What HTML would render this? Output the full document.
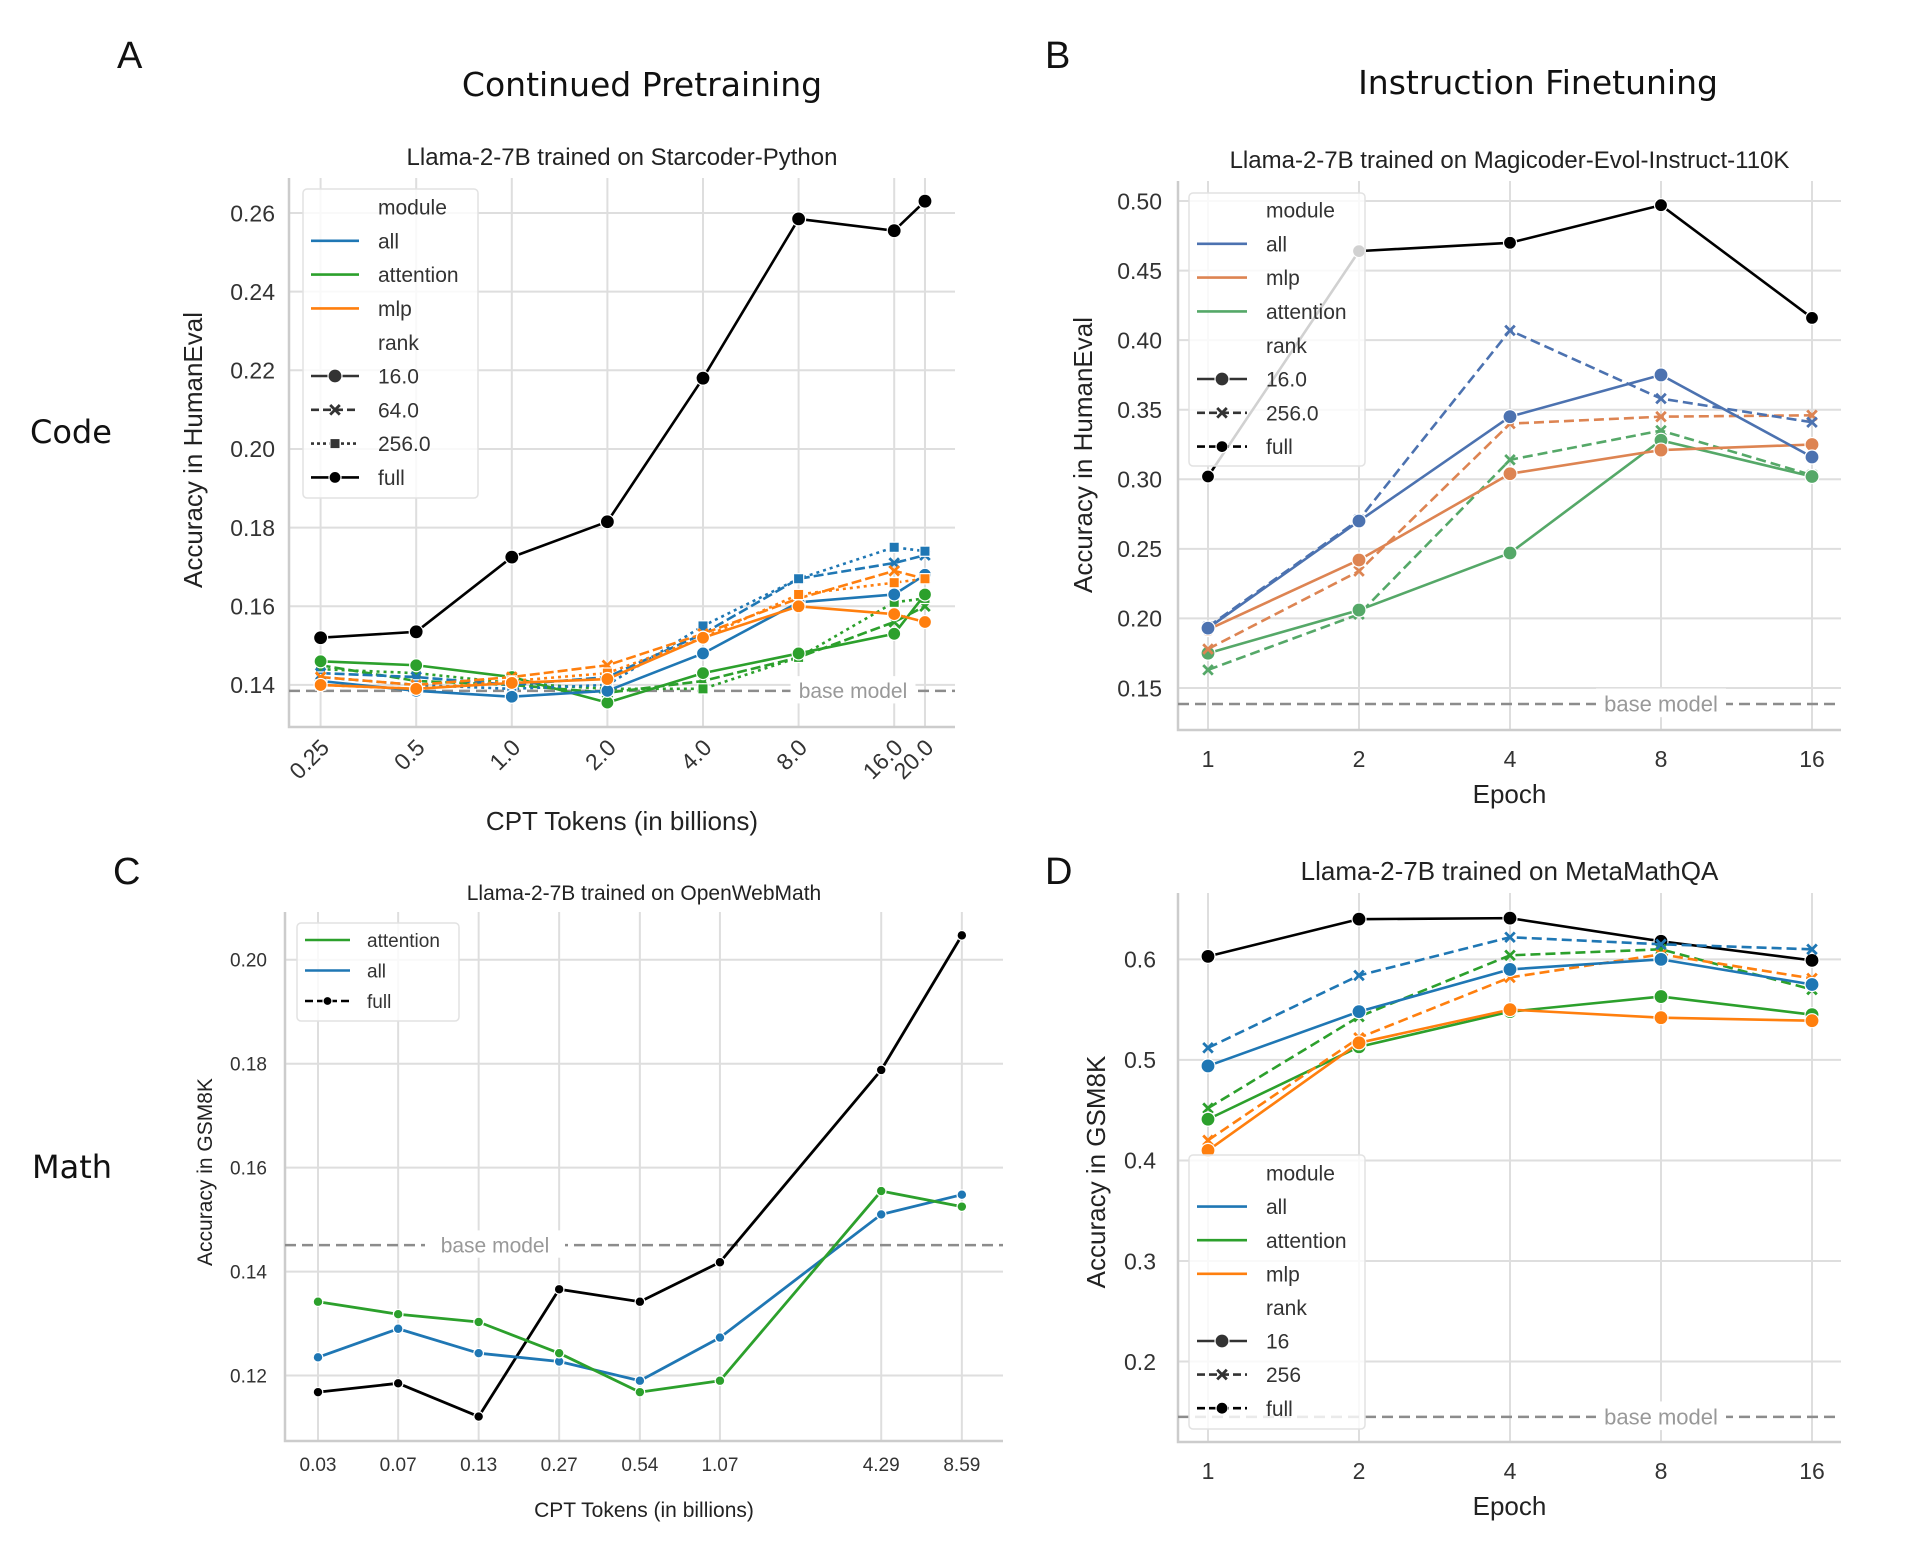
<!DOCTYPE html>
<html><head><meta charset="utf-8"><style>
body{margin:0;background:#fff;}
svg{display:block;font-family:"Liberation Sans",sans-serif;}
</style></head><body>
<svg id="fig" width="1920" height="1563" viewBox="0 0 1920 1563" xmlns="http://www.w3.org/2000/svg">
<rect width="1920" height="1563" fill="#fff"/>
<text x="117" y="68" font-size="38" fill="#111">A</text>
<text x="1045" y="68" font-size="38" fill="#111">B</text>
<text x="113" y="884" font-size="38" fill="#111">C</text>
<text x="1045" y="884" font-size="38" fill="#111">D</text>
<text x="642" y="96" font-size="33" text-anchor="middle" fill="#111" font-family="DejaVu Sans, sans-serif">Continued Pretraining</text>
<text x="1538" y="94" font-size="33" text-anchor="middle" fill="#111" font-family="DejaVu Sans, sans-serif">Instruction Finetuning</text>
<text x="30" y="443" font-size="32" fill="#111" font-family="DejaVu Sans, sans-serif">Code</text>
<text x="32" y="1178" font-size="32" fill="#111" font-family="DejaVu Sans, sans-serif">Math</text>
<g id="root"></g>
</svg>
<script>
// ---------- Panel A data ----------
const A_tokens=[0.25,0.5,1,2,4,8,16,20];
const A_tickLabels=['0.25','0.5','1.0','2.0','4.0','8.0','16.0','20.0'];
const A_yTicks=[0.14,0.16,0.18,0.20,0.22,0.24,0.26];
const A_full=[0.152,0.1535,0.1725,0.1815,0.218,0.2585,0.2555,0.263];
const A_all16=[0.141,0.1385,0.137,0.1385,0.148,0.161,0.163,0.168];
const A_all64=[0.143,0.142,0.140,0.142,0.153,0.167,0.171,0.173];
const A_all256=[0.142,0.140,0.139,0.140,0.155,0.167,0.175,0.174];
const A_att16=[0.146,0.145,0.142,0.1355,0.143,0.148,0.153,0.163];
const A_att64=[0.145,0.141,0.140,0.138,0.141,0.147,0.156,0.160];
const A_att256=[0.144,0.143,0.1405,0.139,0.139,0.147,0.161,0.162];
const A_mlp16=[0.140,0.139,0.1405,0.1415,0.152,0.160,0.158,0.156];
const A_mlp64=[0.142,0.140,0.142,0.145,0.153,0.162,0.169,0.167];
const A_mlp256=[0.140,0.139,0.141,0.143,0.152,0.163,0.166,0.167];
const A_base=0.1385;
// ---------- Panel B data ----------
const B_epochs=[1,2,4,8,16];
const B_tickLabels=['1','2','4','8','16'];
const B_yTicks=[0.15,0.20,0.25,0.30,0.35,0.40,0.45,0.50];
const B_full=[0.302,0.464,0.470,0.497,0.416];
const B_all16=[0.193,0.270,0.345,0.375,0.316];
const B_all256=[0.194,0.271,0.407,0.358,0.341];
const B_mlp16=[0.192,0.242,0.304,0.321,0.325];
const B_mlp256=[0.178,0.234,0.340,0.345,0.346];
const B_att16=[0.175,0.206,0.247,0.328,0.302];
const B_att256=[0.163,0.203,0.314,0.335,0.303];
const B_base=0.1385;
// ---------- Panel C data ----------
const C_tokens=[0.0336,0.067,0.134,0.268,0.537,1.07,4.29,8.59];
const C_tickLabels=['0.03','0.07','0.13','0.27','0.54','1.07','4.29','8.59'];
const C_yTicks=[0.12,0.14,0.16,0.18,0.20];
const C_full=[0.1168,0.1185,0.1121,0.1366,0.1342,0.1418,0.1788,0.2047];
const C_att=[0.1342,0.1318,0.1303,0.1243,0.1168,0.1190,0.1555,0.1525];
const C_all=[0.1235,0.1290,0.1243,0.1227,0.1190,0.1273,0.1510,0.1548];
const C_base=0.1451;
// ---------- Panel D data ----------
const D_epochs=[1,2,4,8,16];
const D_tickLabels=['1','2','4','8','16'];
const D_yTicks=[0.2,0.3,0.4,0.5,0.6];
const D_full=[0.603,0.640,0.641,0.618,0.599];
const D_all16=[0.494,0.548,0.590,0.600,0.575];
const D_all256=[0.512,0.584,0.622,0.615,0.610];
const D_att16=[0.441,0.513,0.548,0.563,0.545];
const D_att256=[0.452,0.543,0.604,0.610,0.570];
const D_mlp16=[0.410,0.517,0.550,0.542,0.539];
const D_mlp256=[0.420,0.522,0.582,0.605,0.581];
const D_base=0.145;

const NS='http://www.w3.org/2000/svg';
const root=document.getElementById('root');
function mk(tag,attrs,parent){const e=document.createElementNS(NS,tag);for(const k in attrs)e.setAttribute(k,attrs[k]);(parent||root).appendChild(e);return e;}
function txt(s,attrs,parent,name){const e=mk('text',attrs,parent);e.textContent=s;


return e;}

function makeAxes(o){
  // o: left,right,top,bottom,xs(px array), yTicks, ydom, tickLabels, fonts
  const g=mk('g',{});
  
  
  const y=v=>o.bottom-(v-o.y0)/(o.y1-o.y0)*(o.bottom-o.top);
  o.y=y;
  o.yTicks.forEach(t=>{const l=mk('line',{x1:o.left,x2:o.right,y1:y(t),y2:y(t),stroke:'#dedede','stroke-width':2},g);
    
    
    txt(o.yFmt(t),{x:o.left-o.yPad,y:y(t)+o.tickFs*0.36,'font-size':o.tickFs,'text-anchor':'end',fill:'#333'},g,'y-tick-label');});
  o.xs.forEach((px,i)=>{const l=mk('line',{x1:px,x2:px,y1:o.top,y2:o.bottom,stroke:'#dedede','stroke-width':2},g);
    
    
    if(o.rot){txt(o.tickLabels[i],{x:px+10,y:o.bottom+22,'font-size':o.tickFs,'text-anchor':'end',fill:'#333',transform:`rotate(-45 ${px+10} ${o.bottom+22})`},g,'x-tick-label');}
    else txt(o.tickLabels[i],{x:px,y:o.bottom+o.xPad,'font-size':o.tickFs,'text-anchor':'middle',fill:'#333'},g,'x-tick-label');});
  const sp=mk('path',{d:`M${o.left} ${o.top}V${o.bottom}H${o.right}`,fill:'none',stroke:'#cccccc','stroke-width':2.5},g);
  
  
  txt(o.title,{x:(o.left+o.right)/2,y:o.titleY,'font-size':o.titleFs,'text-anchor':'middle',fill:'#222'},g,'chart-title');
  txt(o.xlabel,{x:(o.left+o.right)/2,y:o.xlabelY,'font-size':o.labelFs,'text-anchor':'middle',fill:'#222'},g,'x-axis-title');
  txt(o.ylabel,{x:o.ylabelX,y:o.ylabelY,'font-size':o.labelFs,'text-anchor':'middle',fill:'#222',transform:`rotate(-90 ${o.ylabelX} ${o.ylabelY})`},g,'y-axis-title');
  // base model
  const by=y(o.base);
  const bl=mk('line',{x1:o.left,x2:o.right,y1:by,y2:by,stroke:'#8c8c8c','stroke-width':2.5,'stroke-dasharray':'11,6'},g);
  
  
  const bw=o.baseW;
  mk('rect',{x:o.baseX-bw/2,y:by-o.baseFs*0.7,width:bw,height:o.baseFs*1.3,fill:'#fff'},g);
  txt('base model',{x:o.baseX,y:by+o.baseFs*0.35,'font-size':o.baseFs,'text-anchor':'middle',fill:'#999'},g,'base-model-label');
  o.g=mk('g',{},g);
  return o;
}
function marker(type,x,y,color,r,parent){
  let e;
  if(type==='o') e=mk('circle',{cx:x,cy:y,r:r,fill:color,stroke:'#fff','stroke-width':1.2},parent);
  else if(type==='s') e=mk('rect',{x:x-r*0.85,y:y-r*0.85,width:r*1.7,height:r*1.7,fill:color,stroke:'#fff','stroke-width':1.2},parent);
  else {const d=r*0.8;e=mk('path',{d:`M${x-d} ${y-d}L${x+d} ${y+d}M${x-d} ${y+d}L${x+d} ${y-d}`,stroke:color,'stroke-width':2.8,fill:'none'},parent);}
  
  
}
function series(o,vals,color,dash,mtype,r,name,lw){
  const g=mk('g',{},o.g);
  
  
  const pts=vals.map((v,i)=>[o.xs[i],o.y(v)]);
  const p=mk('path',{d:'M'+pts.map(p=>p.join(' ')).join('L'),fill:'none',stroke:color,'stroke-width':lw||2.6,'stroke-dasharray':dash||'none','stroke-linejoin':'round'},g);
  
  
  pts.forEach(q=>marker(mtype,q[0],q[1],color,r,g));
}
function legend(L){
  const g=mk('g',{});
  
  
  mk('rect',{x:L.x,y:L.y,width:L.w,height:L.h,rx:4,fill:'#fff','fill-opacity':0.82,stroke:'#e2e2e2','stroke-width':1.5},g);
  L.items.forEach((it,i)=>{
    const yy=L.y0+i*L.step;
    if(it.color){const l=mk('line',{x1:L.hx,x2:L.hx+L.hw,y1:yy,y2:yy,stroke:it.color,'stroke-width':2.6,'stroke-dasharray':it.dash||'none'},g);
      
      
      if(it.m) marker(it.m,L.hx+L.hw/2,yy,it.color,it.r||6,g);}
    txt(it.t,{x:L.tx,y:yy+L.fs*0.36,'font-size':L.fs,fill:'#333'},g,'legend-entry');
  });
}
const log2=Math.log2;
const tab={b:'#1f77b4',g:'#2ca02c',o:'#ff7f0e'};
const deep={b:'#4c72b0',o:'#dd8452',g:'#55a868'};

// ---------- Panel A ----------
const A=makeAxes({name:'panel-a-chart',left:289,right:955,top:178,bottom:727,y0:0.1293,y1:0.2689,
  xs:A_tokens.map(v=>320.6+log2(v/0.25)*95.6),yTicks:A_yTicks,yFmt:t=>t.toFixed(2),tickLabels:A_tickLabels,rot:true,
  tickFs:23,yPad:14,title:'Llama-2-7B trained on Starcoder-Python',titleY:165,titleFs:24,xlabel:'CPT Tokens (in billions)',xlabelY:830,labelFs:26,
  ylabel:'Accuracy in HumanEval',ylabelX:202,ylabelY:450,base:A_base,baseX:853,baseW:125,baseFs:21});
series(A,A_att64,tab.g,'10,4','x',6,'attention-r64');
series(A,A_att256,tab.g,'3,4','s',6,'attention-r256');
series(A,A_att16,tab.g,null,'o',6.5,'attention-r16');
series(A,A_all64,tab.b,'10,4','x',6,'all-r64');
series(A,A_all256,tab.b,'3,4','s',6,'all-r256');
series(A,A_all16,tab.b,null,'o',6.5,'all-r16');
series(A,A_mlp64,tab.o,'10,4','x',6,'mlp-r64');
series(A,A_mlp256,tab.o,'3,4','s',6,'mlp-r256');
series(A,A_mlp16,tab.o,null,'o',6.5,'mlp-r16');
series(A,A_full,'#000',null,'o',7,'full');
legend({x:303,y:189,w:175,h:309,y0:207,step:33.8,hx:311,hw:48,tx:378,fs:21,items:[
  {t:'module'},{t:'all',color:tab.b},{t:'attention',color:tab.g},{t:'mlp',color:tab.o},{t:'rank'},
  {t:'16.0',color:'#333',m:'o',r:7},{t:'64.0',color:'#333',dash:'8,4',m:'x'},{t:'256.0',color:'#333',dash:'3,3',m:'s'},{t:'full',color:'#000',m:'o',r:6}]});

// ---------- Panel B ----------
const B=makeAxes({name:'panel-b-chart',left:1178,right:1841,top:181,bottom:730,y0:0.1198,y1:0.5144,
  xs:B_epochs.map(v=>1208+log2(v)*151),yTicks:B_yTicks,yFmt:t=>t.toFixed(2),tickLabels:B_tickLabels,rot:false,xPad:37,
  tickFs:23,yPad:16,title:'Llama-2-7B trained on Magicoder-Evol-Instruct-110K',titleY:168,titleFs:24,xlabel:'Epoch',xlabelY:803,labelFs:26,
  ylabel:'Accuracy in HumanEval',ylabelX:1092,ylabelY:455,base:B_base,baseX:1661,baseW:130,baseFs:22});
series(B,B_full,'#000',null,'o',6.5,'full');
series(B,B_att256,deep.g,'10,5','x',6,'attention-r256');
series(B,B_att16,deep.g,null,'o',7,'attention-r16');
series(B,B_mlp256,deep.o,'10,5','x',6,'mlp-r256');
series(B,B_mlp16,deep.o,null,'o',7,'mlp-r16');
series(B,B_all256,deep.b,'10,5','x',6,'all-r256');
series(B,B_all16,deep.b,null,'o',7,'all-r16');
legend({x:1189,y:193,w:176,h:273,y0:210,step:33.8,hx:1197,hw:50,tx:1266,fs:21,items:[
  {t:'module'},{t:'all',color:deep.b},{t:'mlp',color:deep.o},{t:'attention',color:deep.g},{t:'rank'},
  {t:'16.0',color:'#333',m:'o',r:7},{t:'256.0',color:'#333',dash:'8,4',m:'x'},{t:'full',color:'#000',dash:'8,4',m:'o',r:6}]});

// ---------- Panel C ----------
const C=makeAxes({name:'panel-c-chart',left:285,right:1003,top:912,bottom:1441,y0:0.1074,y1:0.2092,
  xs:C_tokens.map(v=>318+log2(v/0.0336)*80.5),yTicks:C_yTicks,yFmt:t=>t.toFixed(2),tickLabels:C_tickLabels,rot:false,xPad:30,
  tickFs:19,yPad:18,title:'Llama-2-7B trained on OpenWebMath',titleY:900,titleFs:21,xlabel:'CPT Tokens (in billions)',xlabelY:1517,labelFs:21,
  ylabel:'Accuracy in GSM8K',ylabelX:212,ylabelY:1172,base:C_base,baseX:495,baseW:140,baseFs:21});
series(C,C_full,'#000',null,'o',4.8,'full',2.8);
series(C,C_all,tab.b,null,'o',4.8,'all',2.8);
series(C,C_att,tab.g,null,'o',4.8,'attention',2.8);
legend({x:297,y:923,w:162,h:98,y0:940,step:30.5,hx:305,hw:45,tx:367,fs:19,items:[
  {t:'attention',color:tab.g},{t:'all',color:tab.b},{t:'full',color:'#000',dash:'8,4',m:'o',r:4.5}]});

// ---------- Panel D ----------
const D=makeAxes({name:'panel-d-chart',left:1178,right:1841,top:893,bottom:1442,y0:0.12,y1:0.666,
  xs:D_epochs.map(v=>1208+log2(v)*151),yTicks:D_yTicks,yFmt:t=>t.toFixed(1),tickLabels:D_tickLabels,rot:false,xPad:37,
  tickFs:23,yPad:22,title:'Llama-2-7B trained on MetaMathQA',titleY:880,titleFs:26,xlabel:'Epoch',xlabelY:1515,labelFs:26,
  ylabel:'Accuracy in GSM8K',ylabelX:1105,ylabelY:1172,base:D_base,baseX:1661,baseW:130,baseFs:22});
series(D,D_full,'#000',null,'o',7,'full');
series(D,D_att256,tab.g,'10,5','x',6,'attention-r256');
series(D,D_att16,tab.g,null,'o',7,'attention-r16');
series(D,D_mlp256,tab.o,'10,5','x',6,'mlp-r256');
series(D,D_mlp16,tab.o,null,'o',7,'mlp-r16');
series(D,D_all256,tab.b,'10,5','x',6,'all-r256');
series(D,D_all16,tab.b,null,'o',7,'all-r16');
legend({x:1189,y:1155,w:176,h:274,y0:1173,step:33.6,hx:1197,hw:50,tx:1266,fs:21,items:[
  {t:'module'},{t:'all',color:tab.b},{t:'attention',color:tab.g},{t:'mlp',color:tab.o},{t:'rank'},
  {t:'16',color:'#333',m:'o',r:7},{t:'256',color:'#333',dash:'8,4',m:'x'},{t:'full',color:'#000',dash:'8,4',m:'o',r:6}]});
</script>
</body></html>
